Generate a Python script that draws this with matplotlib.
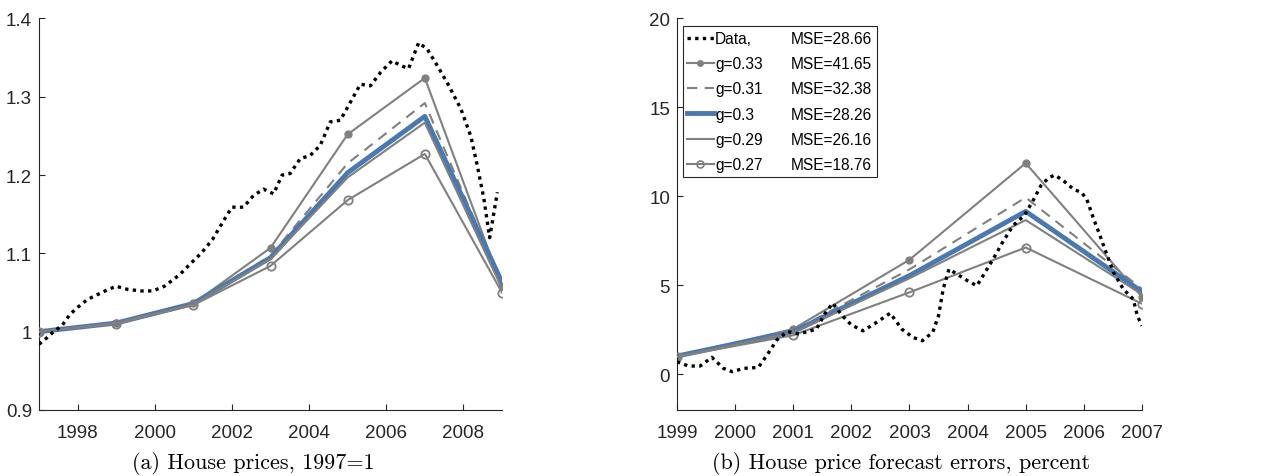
import numpy as np
import matplotlib
matplotlib.use('Agg')
import matplotlib.pyplot as plt
from matplotlib.lines import Line2D
from matplotlib.ticker import FuncFormatter

# ---- data: panel (a) house prices, 1997=1
data_a_years = [1997.0, 1997.2, 1997.4, 1997.6, 1997.8, 1998.0, 1998.25, 1998.5, 1998.8,
                1999.0, 1999.3, 1999.65, 1999.95, 2000.25, 2000.65, 2000.95, 2001.2,
                2001.5, 2001.8, 2002.0, 2002.3, 2002.56, 2002.82, 2003.08, 2003.3,
                2003.51, 2003.77, 2004.03, 2004.29, 2004.55, 2004.81, 2005.07, 2005.33,
                2005.59, 2005.85, 2006.15, 2006.37, 2006.58, 2006.84, 2007.06, 2007.32,
                2007.58, 2007.93, 2008.19, 2008.36, 2008.53, 2008.68, 2008.88]
data_a = [0.984, 0.992, 1.001, 1.008, 1.022, 1.031, 1.041, 1.047, 1.054,
          1.058, 1.054, 1.052, 1.052, 1.058, 1.073, 1.088, 1.100,
          1.118, 1.143, 1.159, 1.159, 1.174, 1.182, 1.176, 1.200,
          1.202, 1.221, 1.225, 1.238, 1.268, 1.270, 1.293, 1.316,
          1.314, 1.331, 1.346, 1.340, 1.336, 1.369, 1.361, 1.340,
          1.318, 1.285, 1.250, 1.212, 1.170, 1.120, 1.178]

model_a_years = [1997, 1999, 2001, 2003, 2005, 2007, 2009]
g033_a = [1.0, 1.011, 1.036, 1.107, 1.252, 1.324, 1.058]
g031_a = [1.0, 1.011, 1.036, 1.097, 1.215, 1.292, 1.060]
g030_a = [1.0, 1.011, 1.036, 1.0945, 1.203, 1.275, 1.063]
g029_a = [1.0, 1.011, 1.035, 1.093, 1.197, 1.267, 1.055]
g027_a = [1.0, 1.010, 1.034, 1.084, 1.168, 1.227, 1.050]

# ---- data: panel (b) forecast errors, percent
data_b_years = [1999.0, 1999.2, 1999.4, 1999.6, 1999.8, 1999.95, 2000.15, 2000.4, 2000.55,
                2000.72, 2000.9, 2001.1, 2001.4, 2001.55, 2001.68, 2001.83, 2002.0,
                2002.2, 2002.4, 2002.67, 2002.87, 2003.06, 2003.22, 2003.4, 2003.5,
                2003.58, 2003.68, 2003.82, 2004.0, 2004.16, 2004.3, 2004.44, 2004.6,
                2004.78, 2004.97, 2005.11, 2005.26, 2005.4, 2005.5, 2005.65, 2005.82,
                2005.96, 2006.05, 2006.17, 2006.28, 2006.34, 2006.51, 2006.68, 2006.85,
                2006.92, 2007.0]
data_b = [0.71, 0.47, 0.47, 0.96, 0.34, 0.15, 0.34, 0.39, 1.09,
          1.94, 2.41, 2.27, 2.54, 3.44, 4.00, 3.35, 2.78,
          2.45, 2.85, 3.44, 2.54, 2.08, 1.89, 2.36, 3.29,
          4.79, 5.92, 5.63, 5.26, 4.98, 5.73, 6.48, 7.41,
          8.35, 8.91, 9.66, 10.6, 11.06, 11.2, 10.88, 10.41,
          10.22, 9.85, 8.73, 7.79, 7.23, 5.73, 4.79, 4.23,
          3.30, 2.73]

model_b_years = [1999, 2001, 2003, 2005, 2007]
g033_b = [1.03, 2.55, 6.44, 11.87, 4.35]
g031_b = [1.03, 2.45, 5.90, 9.94, 4.80]
g030_b = [1.03, 2.40, 5.55, 9.16, 4.65]
g029_b = [1.00, 2.35, 5.40, 8.67, 4.50]
g027_b = [1.00, 2.20, 4.61, 7.13, 3.97]

labels = ['Data,', 'g=0.33', 'g=0.31', 'g=0.3', 'g=0.29', 'g=0.27']
mse_labels = ['MSE=28.66', 'MSE=41.65', 'MSE=32.38', 'MSE=28.26', 'MSE=26.16', 'MSE=18.76']

plt.rcParams['font.family'] = ['Liberation Sans', 'DejaVu Sans']
gray = '#808080'
blue = '#4a78b0'
axcol = '#262626'

fig = plt.figure(figsize=(12.67, 4.77), dpi=100)
ax1 = fig.add_axes([0.0308, 0.1384, 0.3654, 0.8208])
ax2 = fig.add_axes([0.5343, 0.1384, 0.3670, 0.8208])


def draw(ax, dyears, dvals, myears, g33, g31, g30, g29, g27):
    ax.plot(myears, g33, color=gray, lw=1.5, marker='.', ms=10, zorder=2)
    ax.plot(myears, g31, color=gray, lw=1.5, ls=(0, (5, 3.5)), zorder=2)
    ax.plot(myears, g30, color=blue, lw=3.5, zorder=2)
    ax.plot(myears, g29, color=gray, lw=1.5, zorder=3)
    ax.plot(myears, g27, color=gray, lw=1.5, marker='o', ms=6, mfc='none', mew=1.3, zorder=3)
    ax.plot(dyears, dvals, color='black', lw=2.4, ls=(0, (1, 1.3)), zorder=4)
    for s in ['top', 'right']:
        ax.spines[s].set_visible(False)
    for s in ['left', 'bottom']:
        ax.spines[s].set_color(axcol)
        ax.spines[s].set_linewidth(0.8)
    ax.tick_params(direction='in', length=4, width=0.8, colors=axcol, labelsize=13.5,
                   labelcolor=axcol)
    ax.tick_params(axis='x', pad=10)
    ax.tick_params(axis='y', pad=5)
    ax.yaxis.set_major_formatter(FuncFormatter(lambda v, p: '%g' % round(v, 2)))


draw(ax1, data_a_years, data_a, model_a_years, g033_a, g031_a, g030_a, g029_a, g027_a)
ax1.set_xlim(1997, 2009)
ax1.set_ylim(0.9, 1.4)
ax1.set_xticks([1998, 2000, 2002, 2004, 2006, 2008])
ax1.set_yticks([0.9, 1.0, 1.1, 1.2, 1.3, 1.4])

draw(ax2, data_b_years, data_b, model_b_years, g033_b, g031_b, g030_b, g029_b, g027_b)
ax2.set_xlim(1999, 2007)
ax2.set_ylim(-2, 20)
ax2.set_xticks(list(range(1999, 2008)))
ax2.set_yticks([0, 5, 10, 15, 20])

# legend with two text columns
handles = [
    Line2D([], [], color='black', lw=2.4, ls=(0, (1, 1.3))),
    Line2D([], [], color=gray, lw=1.5, marker='.', ms=8),
    Line2D([], [], color=gray, lw=1.5, ls=(0, (5, 3.5))),
    Line2D([], [], color=blue, lw=3.5),
    Line2D([], [], color=gray, lw=1.5),
    Line2D([], [], color=gray, lw=1.5, marker='o', ms=5, mfc='none', mew=1.2),
]
blank = [Line2D([], [], color='none') for _ in mse_labels]
leg = ax2.legend(handles + blank, labels + mse_labels, ncol=2, loc='upper left',
                 bbox_to_anchor=(0.012, 0.98), fontsize=11.2, handlelength=1.7,
                 handletextpad=0.1, columnspacing=0.0, labelspacing=0.66,
                 borderpad=0.3, borderaxespad=0.0, fancybox=False, framealpha=1)
leg.get_frame().set_edgecolor(axcol)
leg.get_frame().set_linewidth(0.8)
for t in leg.get_texts():
    t.set_color('black')

fig.text(253 / 1267, 1 - 464 / 477, '(a) House prices, 1997=1', family='cmr10',
         fontsize=15.9, ha='center', va='center')
fig.text(901 / 1267, 1 - 464 / 477, '(b) House price forecast errors, percent',
         family='cmr10', fontsize=15.9, ha='center', va='center')

fig.savefig('out.png', dpi=100)
